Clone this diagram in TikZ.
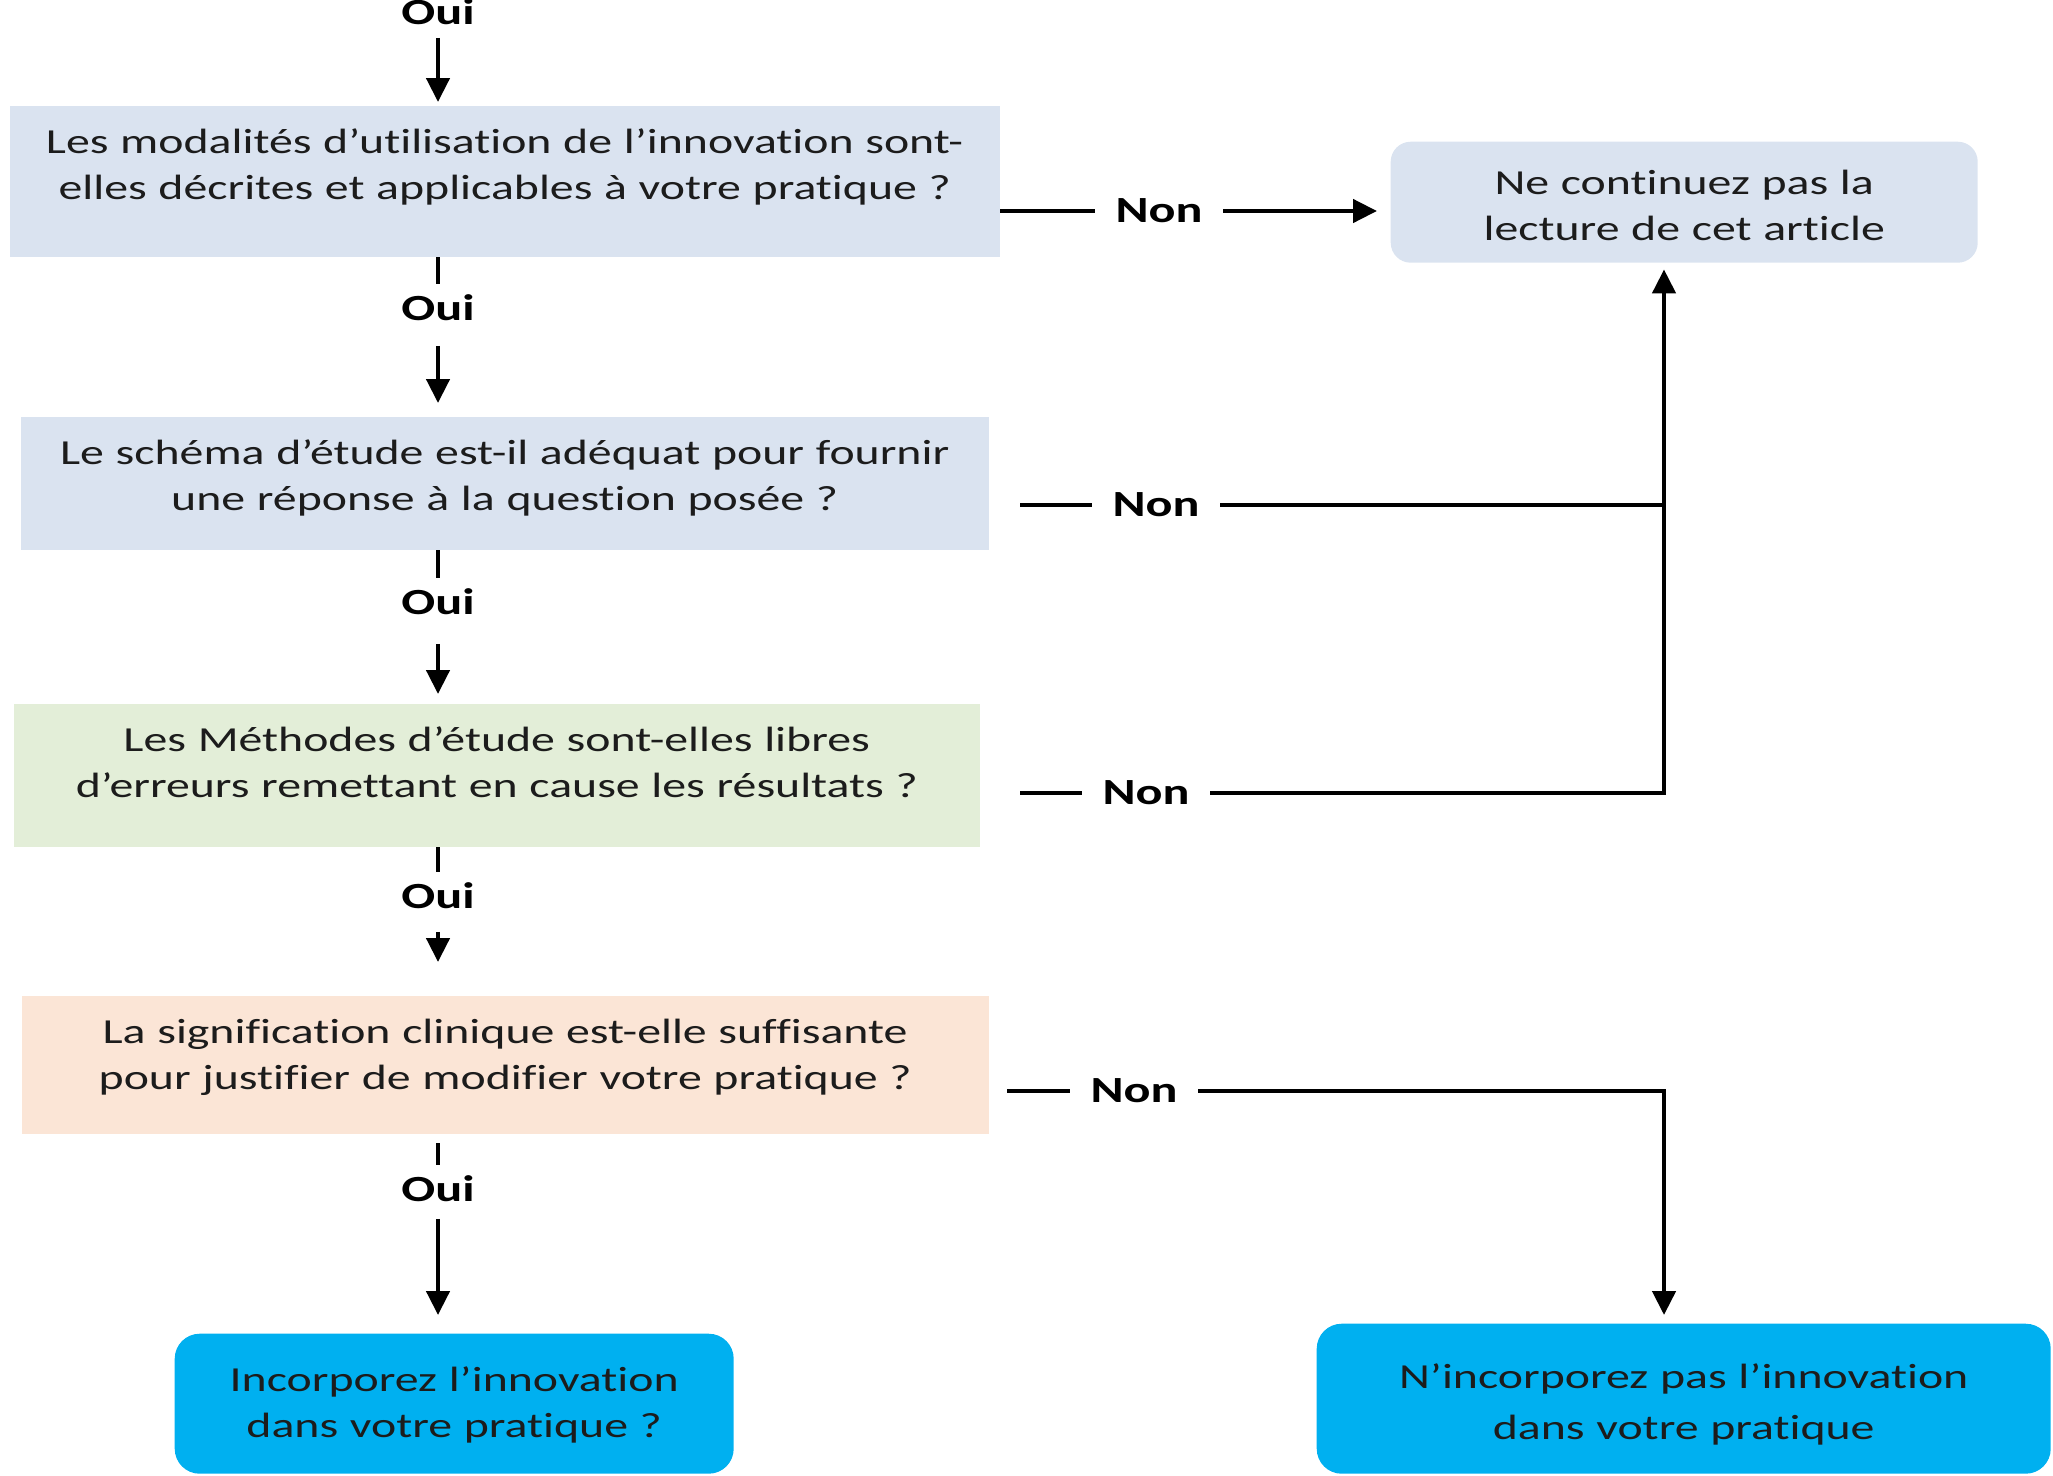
\documentclass[tikz,border=0pt]{standalone}
\usepackage{fontspec}
\setmainfont{Carlito}[FakeStretch=1.36, Ligatures=NoCommon]
\usepackage{tikz}
\usetikzlibrary{positioning,arrows.meta}

\definecolor{boxblue}{HTML}{DAE3F0}
\definecolor{boxgreen}{HTML}{E3EED8}
\definecolor{boxpeach}{HTML}{FBE5D6}
\definecolor{boxcyan}{HTML}{00B0F0}
\definecolor{textdark}{HTML}{1C1C1C}

\begin{document}
\begin{tikzpicture}[
  questionnode/.style={rectangle, anchor=north west, inner sep=0pt, align=center, text=textdark,
                       font=\fontsize{10}{13}\selectfont, text height=0.48cm},
  stopnode/.style={questionnode, fill=boxblue, rounded corners=0.2cm},
  endnode/.style={questionnode, fill=boxcyan, rounded corners=0.25cm},
  ouinode/.style={rectangle, inner sep=0.1cm, font=\fontsize{10.5}{12}\selectfont\bfseries},
  nonnode/.style={rectangle, inner xsep=0.2cm, inner ysep=0.1cm, font=\fontsize{10.5}{12}\selectfont\bfseries},
  link/.style={line width=0.045cm},
  arrow/.style={link, -{Triangle[length=0.24cm,width=0.23cm]}}
  ]
  \useasboundingbox (0,0) rectangle (20.53,-14.75);

  % Questions
  \node[questionnode, fill=boxblue, text width=9.90cm, text depth=1.03cm]  (q1) at (0.09,-1.05)
    {Les modalités d’utilisation de l’innovation sont-\\elles décrites et applicables à votre pratique ?};
  \node[questionnode, fill=boxblue, text width=9.68cm, text depth=0.85cm]  (q2) at (0.20,-4.16)
    {Le schéma d’étude est-il adéquat pour fournir\\une réponse à la question posée ?};
  \node[questionnode, fill=boxgreen, text width=9.66cm, text depth=0.95cm] (q3) at (0.13,-7.03)
    {Les Méthodes d’étude sont-elles libres\\d’erreurs remettant en cause les résultats ?};
  \node[questionnode, fill=boxpeach, text width=9.67cm, text depth=0.90cm] (q4) at (0.21,-9.95)
    {La signification clinique est-elle suffisante\\pour justifier de modifier votre pratique ?};

  % Outcomes
  \node[stopnode, text width=5.87cm, text height=0.53cm, text depth=0.68cm] (stop) at (13.90,-1.41)
    {Ne continuez pas la\\lecture de cet article};
  \node[endnode, text width=5.59cm, text height=0.58cm, text depth=0.82cm]  (adopt) at (1.74,-13.33)
    {Incorporez l’innovation\\dans votre pratique ?};
  \node[endnode, text width=7.34cm, text height=0.65cm, text depth=0.85cm]  (reject) at (13.16,-13.23)
    {N’incorporez pas l’innovation\\[0.05cm]dans votre pratique};

  % Oui labels
  \node[ouinode] (oui0) at (4.38,-0.12)  {Oui};
  \node[ouinode] (oui1) at (4.38,-3.08)  {Oui};
  \node[ouinode] (oui2) at (4.38,-6.02)  {Oui};
  \node[ouinode] (oui3) at (4.38,-8.96)  {Oui};
  \node[ouinode] (oui4) at (4.38,-11.89) {Oui};

  % Non labels
  \node[nonnode] (non1) at (11.59,-2.11)  {Non};
  \node[nonnode] (non2) at (11.56,-5.05)  {Non};
  \node[nonnode] (non3) at (11.46,-7.93)  {Non};
  \node[nonnode] (non4) at (11.34,-10.91) {Non};
  \coordinate (rail) at (16.64,0);

  % Oui connectors
  \draw[arrow, shorten <=0.02cm, shorten >=0.03cm] (oui0) -- (oui0 |- q1.north);
  \draw[link] (q1.south -| oui1) -- (oui1);
  \draw[arrow, shorten <=0.14cm, shorten >=0.13cm] (oui1) -- (oui1 |- q2.north);
  \draw[link] (q2.south -| oui2) -- (oui2);
  \draw[arrow, shorten <=0.18cm, shorten >=0.09cm] (oui2) -- (oui2 |- q3.north);
  \draw[link] (q3.south -| oui3) -- (oui3);
  \draw[arrow, shorten <=0.12cm, shorten >=0.33cm] (oui3) -- (oui3 |- q4.north);
  \draw[link, shorten <=0.09cm] (q4.south -| oui4) -- (oui4);
  \draw[arrow, shorten <=0.06cm, shorten >=0.18cm] (oui4) -- (oui4 |- adopt.north);

  % Non connectors
  \draw[link] (q1.east |- non1) -- (non1);
  \draw[arrow, shorten >=0.13cm] (non1) -- (non1 -| stop.west);
  \draw[link, shorten <=0.31cm] (q2.east |- non2) -- (non2);
  \draw[link] (non2) -- (non2 -| rail);
  \draw[link, shorten <=0.40cm] (q3.east |- non3) -- (non3);
  \draw[arrow, shorten >=0.06cm] (non3) -- (non3 -| rail) -- (rail |- stop.south);
  \draw[link, shorten <=0.18cm] (q4.east |- non4) -- (non4);
  \draw[arrow, shorten >=0.08cm] (non4) -- (non4 -| rail) -- (rail |- reject.north);
\end{tikzpicture}
\end{document}
